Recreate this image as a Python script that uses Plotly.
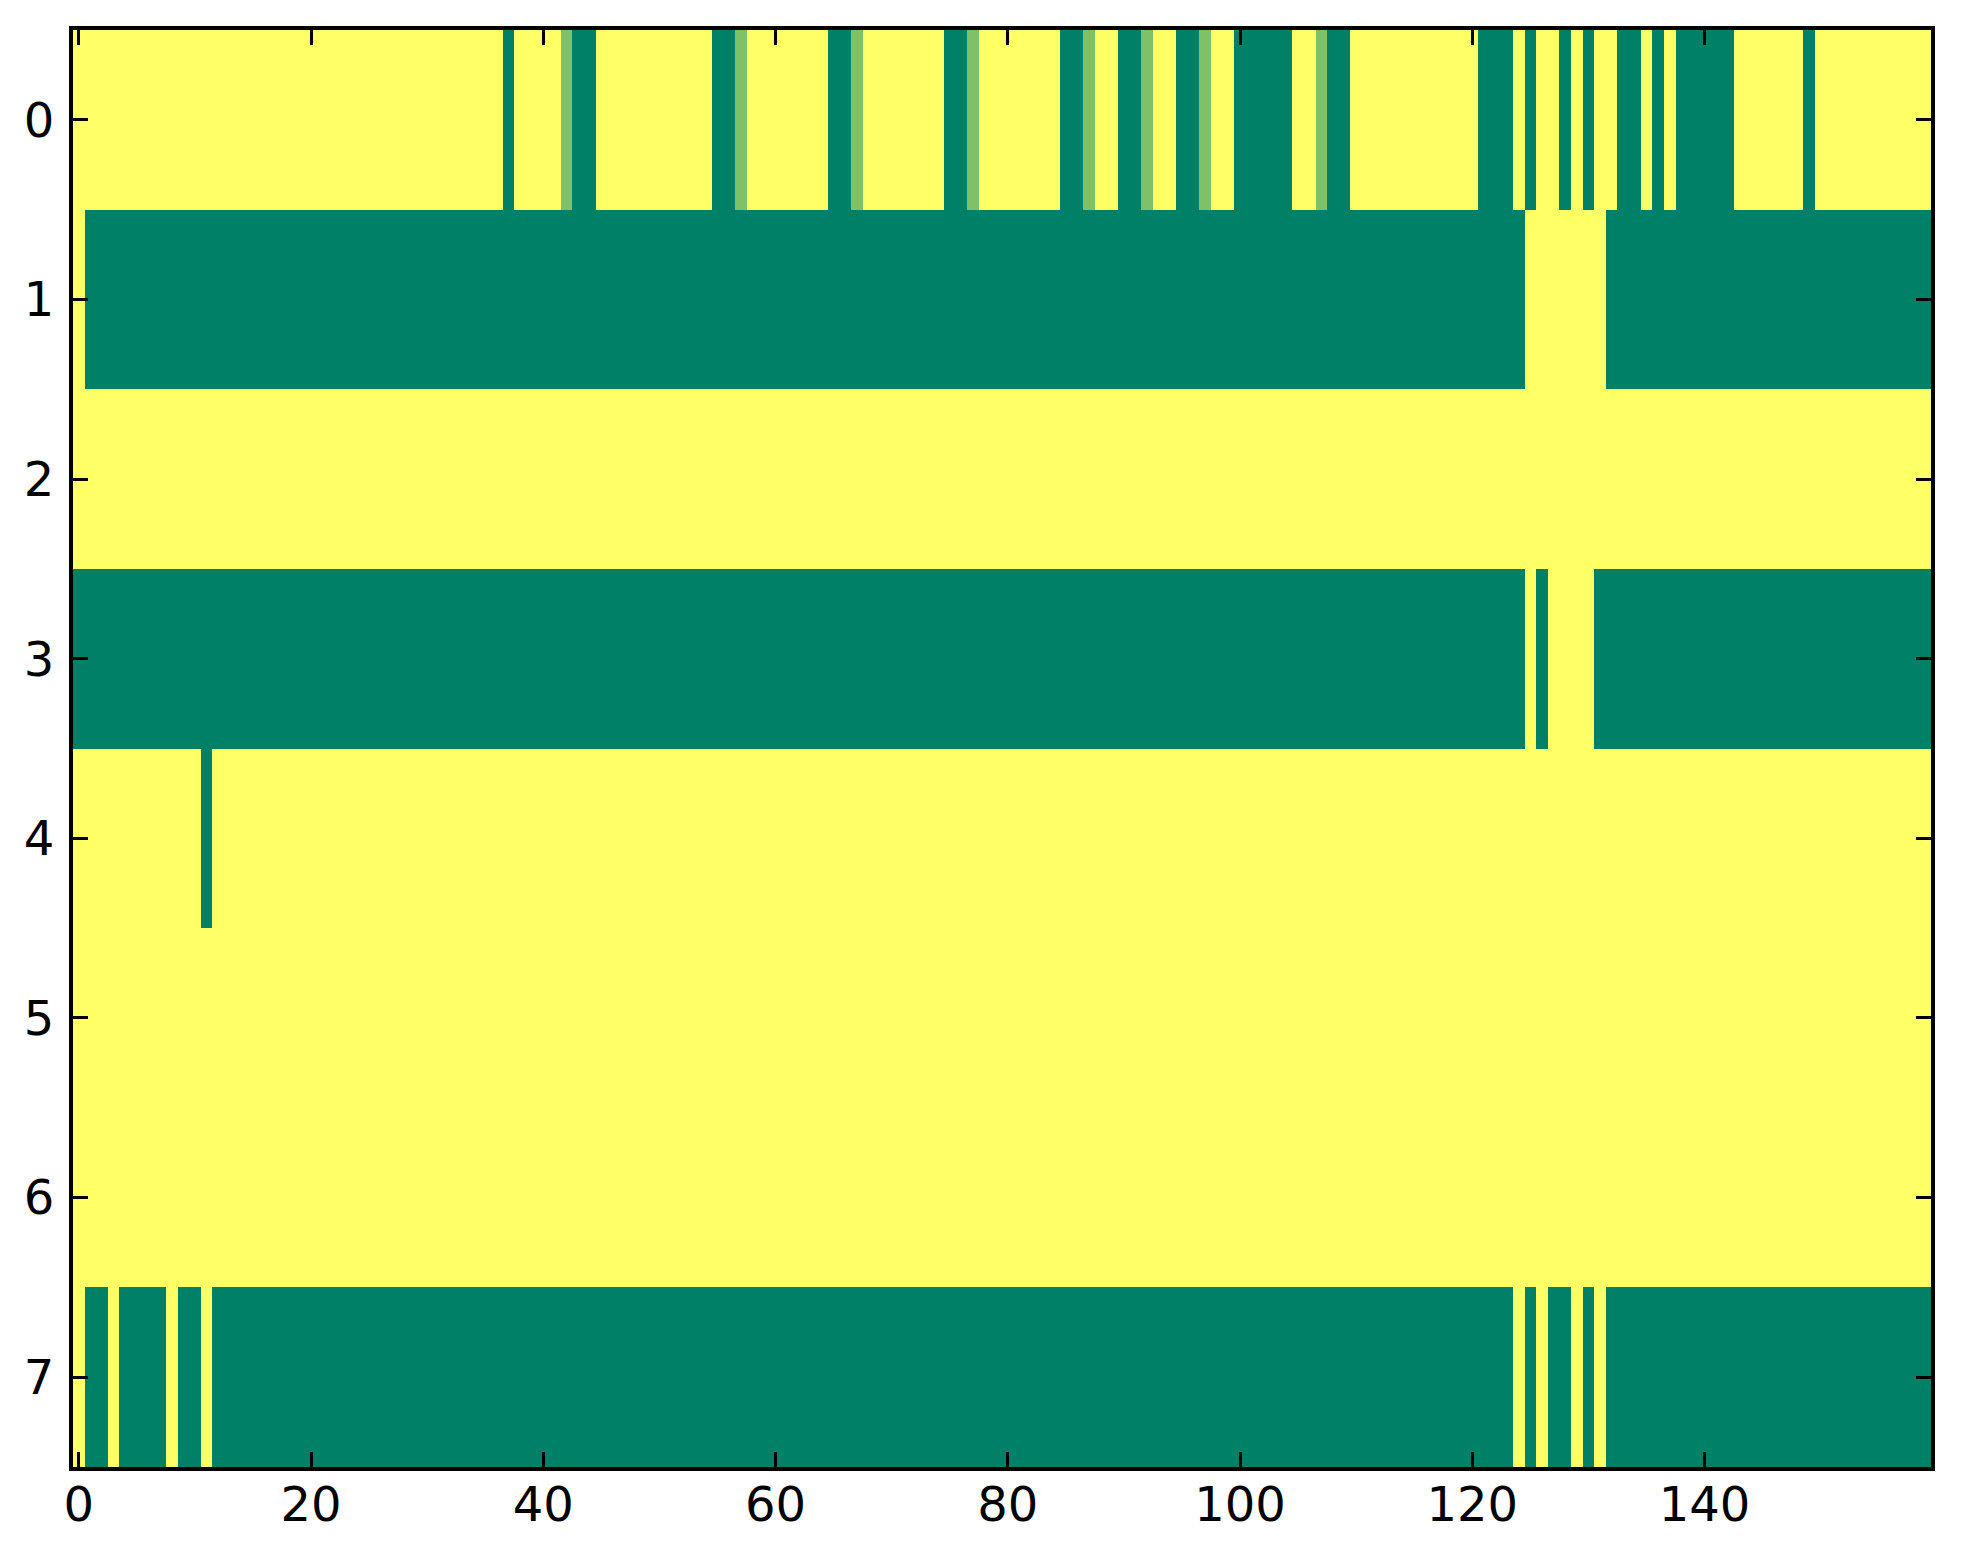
import plotly.graph_objects as go

# run-length encoded rows: (value, run length)
# 0 = dark green, 0.5 = light green, 1 = yellow
row0 = [(1, 37), (0, 1), (1, 4), (0.5, 1), (0, 2), (1, 10), (0, 2), (0.5, 1),
        (1, 7), (0, 2), (0.5, 1), (1, 7), (0, 2), (0.5, 1), (1, 7), (0, 2),
        (0.5, 1), (1, 2), (0, 2), (0.5, 1), (1, 2), (0, 2), (0.5, 1), (1, 2),
        (0, 5), (1, 2), (0.5, 1), (0, 2), (1, 11), (0, 3), (1, 1), (0, 1),
        (1, 2), (0, 1), (1, 1), (0, 1), (1, 2), (0, 2), (1, 1), (0, 1),
        (1, 1), (0, 5), (1, 6), (0, 1), (1, 10)]
row1 = [(1, 1), (0, 124), (1, 7), (0, 28)]
row2 = [(1, 160)]
row3 = [(0, 125), (1, 1), (0, 1), (1, 4), (0, 29)]
row4 = [(1, 11), (0, 1), (1, 148)]
row5 = [(1, 160)]
row6 = [(1, 160)]
row7 = [(1, 1), (0, 2), (1, 1), (0, 4), (1, 1), (0, 2), (1, 1), (0, 112),
        (1, 1), (0, 1), (1, 1), (0, 2), (1, 1), (0, 1), (1, 1), (0, 28)]

rows = [row0, row1, row2, row3, row4, row5, row6, row7]

x_ticks = [0, 20, 40, 60, 80, 100, 120, 140]
y_ticks = [0, 1, 2, 3, 4, 5, 6, 7]


def expand(runs):
    out = []
    for v, n in runs:
        out += [v] * n
    return out


z = [expand(r) for r in rows]

# matplotlib "summer" colormap
summer = [[0, "rgb(0,128,102)"], [1, "rgb(255,255,102)"]]

fig = go.Figure(
    go.Heatmap(z=z, colorscale=summer, zmin=0, zmax=1, showscale=False)
)

axis_style = dict(
    showgrid=False,
    zeroline=False,
    showline=True,
    linecolor="black",
    linewidth=4,
    mirror="ticks",
    ticks="inside",
    ticklen=15,
    tickwidth=3,
    tickcolor="black",
    tickfont=dict(family="DejaVu Sans", size=48, color="black"),
)

fig.update_xaxes(
    range=[-0.5, 159.5], tickvals=x_ticks, ticklabelstandoff=-8, **axis_style
)
fig.update_yaxes(
    range=[7.5, -0.5], tickvals=y_ticks, ticklabelstandoff=5, **axis_style
)

# page body adds ~8px offset, so margins are trimmed on the left/top
fig.update_layout(
    width=1963,
    height=1564,
    margin=dict(l=65, r=40, t=22, b=105),
    paper_bgcolor="white",
    plot_bgcolor="white",
)

fig.write_html("out.html")
